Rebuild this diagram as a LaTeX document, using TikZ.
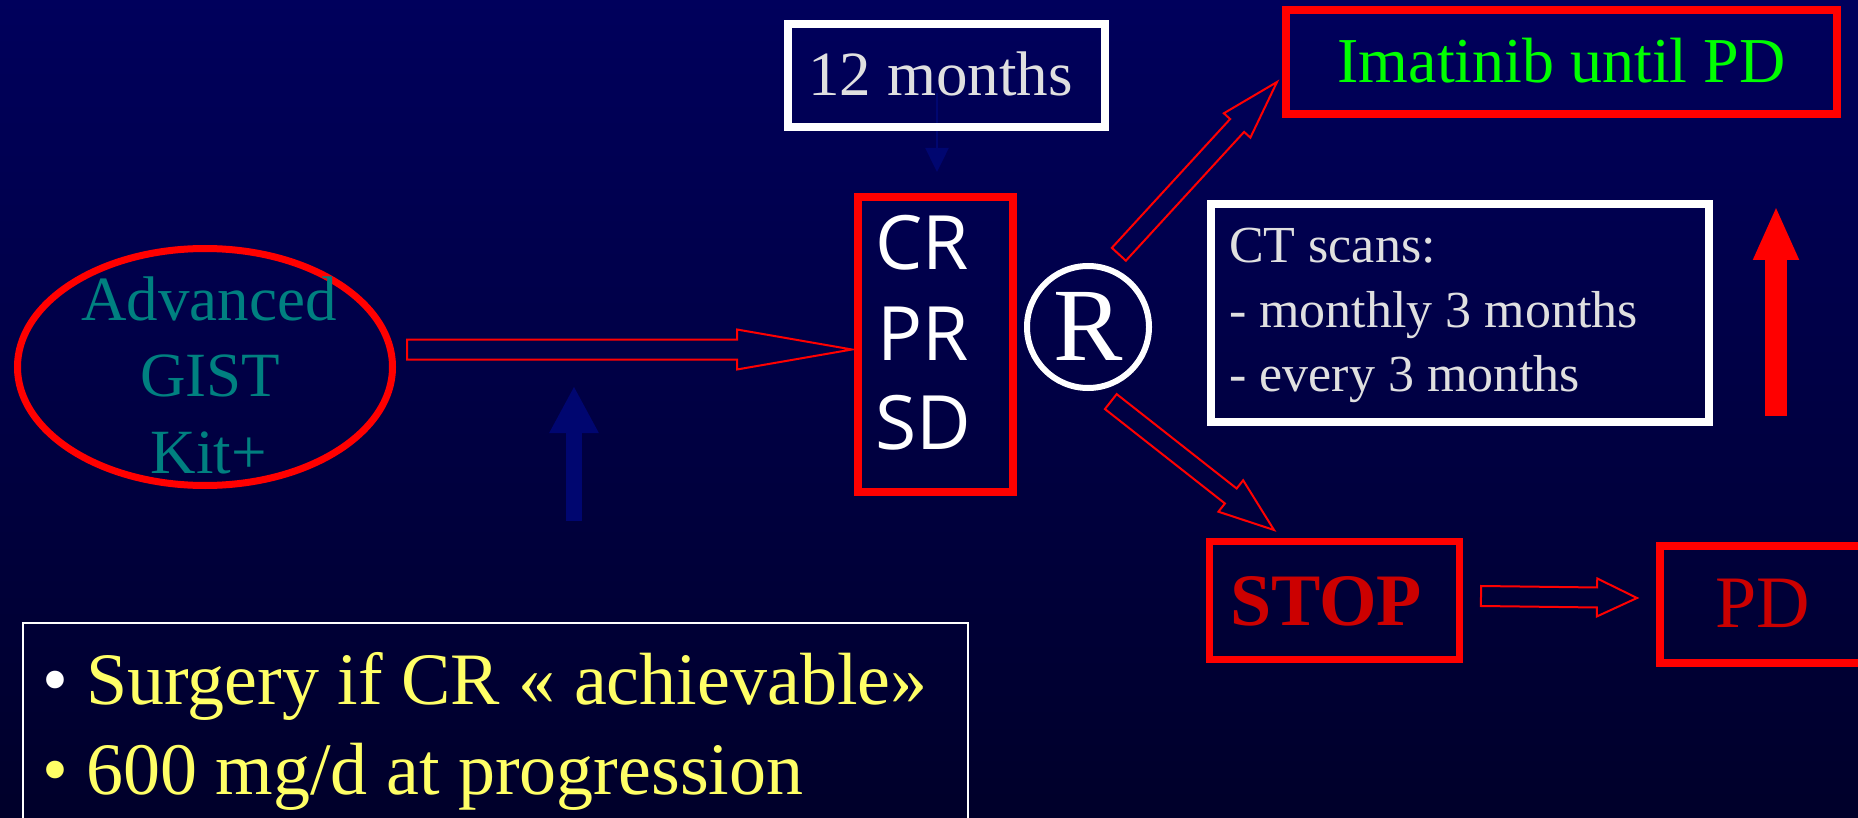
\documentclass[tikz,border=0pt]{standalone}
\usepackage{fontspec}
\setmainfont{Liberation Serif}
\newfontfamily\osans{Open Sans}
\usetikzlibrary{shapes.geometric,arrows.meta,calc}
\pgfdeclarelayer{back}
\pgfsetlayers{back,main}
\definecolor{bgtop}{RGB}{0,0,92}
\definecolor{bgbot}{RGB}{0,0,42}
\definecolor{navyA}{RGB}{0,6,112}
\definecolor{txtgray}{RGB}{224,224,224}
\definecolor{imgreen}{RGB}{0,255,0}
\definecolor{gistteal}{RGB}{0,128,128}
\definecolor{stopred}{RGB}{204,0,0}
\definecolor{noteyellow}{RGB}{255,255,102}
\newcommand{\fsz}[1]{\fontsize{#1pt}{#1pt}\selectfont}
\newcommand{\blockarrow}[5]{%
  \draw[hollow] ($(#1)!#3pt!90:(#2)$) -- ($(#2)!#5pt!(#1)!#3pt!90:(#2)$)
    -- ($(#2)!#5pt!(#1)!#4pt!90:(#2)$) -- (#2)
    -- ($(#2)!#5pt!(#1)!#4pt!-90:(#2)$) -- ($(#2)!#5pt!(#1)!#3pt!-90:(#2)$)
    -- ($(#1)!#3pt!-90:(#2)$) -- cycle;}
\tikzset{
  redbox/.style={draw=red, line width=8pt, inner sep=0pt},
  whitebox/.style={draw=white, line width=8pt, inner sep=0pt},
  hollow/.style={draw=red, line width=2pt, line join=miter},
  txtw/.style={inner sep=0pt, anchor=base west},
  txtc/.style={inner sep=0pt, anchor=base},
}
\begin{document}
\begin{tikzpicture}[x=1pt,y=-1pt]
\useasboundingbox (0,0) rectangle (1858,818);
\begin{pgfonlayer}{back}
\shade[top color=bgtop, bottom color=bgbot] (0,0) rectangle (1858,818);
\end{pgfonlayer}

% boxes with text
\node[whitebox, minimum width=317pt, minimum height=103pt, font=\fsz{63}, text=txtgray,
      text height=53pt, text depth=12pt] (twelve) at (946.5,75.5) {12 months\rule{12pt}{0pt}};
\node[redbox, minimum width=551pt, minimum height=104pt, font=\fsz{64}, text=imgreen,
      text height=55pt, text depth=13pt] (imat) at (1561.5,62) {Imatinib until PD};

\node[redbox, minimum width=155pt, minimum height=295pt] (crbox) at (935.5,344.5) {};
\node[txtw, font=\osans\fsz{75}, text=white] (cr) at (875,270) {CR};
\node[txtw, font=\osans\fsz{75}, text=white] (pr) at (877,360) {PR};
\node[txtw, font=\osans\fsz{75}, text=white] (sd) at (875,449) {SD};

\node[ellipse, draw=red, line width=7pt, minimum width=375pt, minimum height=237pt,
      inner sep=0pt] (ell) at (205,367) {};
\node[txtc, font=\fsz{63}, text=gistteal] (adv) at (209,320) {Advanced};
\node[txtc, font=\fsz{63}, text=gistteal] (gist) at (210,396) {GIST};
\node[txtc, font=\fsz{63}, text=gistteal] (kit) at (209,473) {Kit+};

\node[circle, draw=white, line width=6pt, minimum size=122pt, inner sep=0pt,
      font=\fsz{104}, text=white, text height=66pt, text depth=0pt] (reg) at (1088,327) {R};

\node[whitebox, minimum width=498pt, minimum height=218pt] (ctbox) at (1460,313) {};
\node[txtw, font=\fsz{52}, text=txtgray] (ct1) at (1229,263) {CT scans:};
\node[txtw, font=\fsz{52}, text=txtgray] (ct2) at (1229,327) {- monthly 3 months};
\node[txtw, font=\fsz{52}, text=txtgray] (ct3) at (1229,391) {- every 3 months};

\node[redbox, line width=7pt, minimum width=250pt, minimum height=118pt,
      font=\bfseries\fsz{74}, text=stopred, text height=64pt, text depth=15pt]
      (stop) at (1334.5,600.5) {STOP\rule{17pt}{0pt}};
\node[redbox, minimum width=206pt, minimum height=117pt, font=\fsz{74}, text=stopred,
      text height=60pt, text depth=15pt] (pd) at (1763,604.5) {PD};

\node[draw=white, line width=2pt, minimum width=945pt, minimum height=240pt,
      inner sep=0pt, anchor=north west] (notes) at (22,622) {};
\node[txtw, font=\fsz{74}, text=white] (b1) at (42,704) {•};
\node[txtw, font=\fsz{74}, text=noteyellow] (s1) at (86,704) {Surgery if CR « achievable»};
\node[txtw, font=\fsz{74}, text=noteyellow] (b2) at (42,794) {•};
\node[txtw, font=\fsz{74}, text=noteyellow] (s2) at (86,794) {600 mg/d at progression};

% hollow arrows
\coordinate (a1s) at ($(ell.east|-crbox.west)+(11,5)$);
\coordinate (a1e) at ($(crbox.west)+(-2,5)$);
\blockarrow{a1s}{a1e}{10}{20}{115}
\coordinate (a2s) at ($(reg.center)!79pt!(reg.67)$);
\coordinate (a2e) at ($(imat.west)+(-5,20)$);
\blockarrow{a2s}{a2e}{9.5}{18}{59}
\coordinate (a3s) at ($(reg.center)!78pt!(reg.-73)$);
\coordinate (a3e) at ($(stop.north)+(-60.5,-8)$);
\blockarrow{a3s}{a3e}{9.5}{20}{55}
\coordinate (a4s) at ($(stop.east)+(18,-4.5)$);
\coordinate (a4e) at ($(pd.west)+(-19,-6.5)$);
\blockarrow{a4s}{a4e}{10}{19}{40}

% solid arrows
\begin{pgfonlayer}{back}
\coordinate (m1) at ($(twelve.center)+(-9.5,17.5)$);
\coordinate (m2) at ($(crbox.north)+(1.5,-21)$);
\draw[navyA, line width=2.5pt, -{Triangle[length=24pt,width=23pt]}] (m1) -- (m2);
\end{pgfonlayer}
\coordinate (n1) at (574,521);
\coordinate (n2) at (574,386);
\draw[navyA, line width=16pt, -{Triangle[length=47pt,width=46pt]}] (n1) -- (n2);
\coordinate (r1) at (1776,416);
\coordinate (r2) at (1776,206);
\draw[red, line width=22pt, -{Triangle[length=54pt,width=42pt]}] (r1) -- (r2);
\end{tikzpicture}
\end{document}
